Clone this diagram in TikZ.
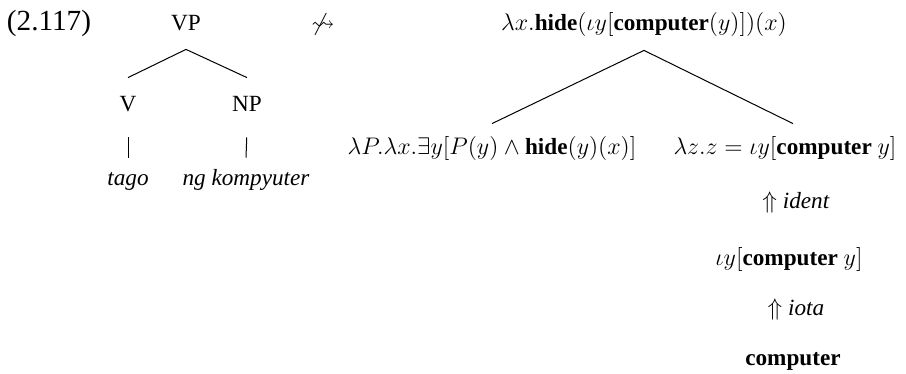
\documentclass[tikz,border=0pt]{standalone}
\usepackage{amssymb}
\usepackage{fontspec}
\setmainfont{Liberation Serif}
\usetikzlibrary{positioning}

\begin{document}
\fontsize{11.6}{14}\selectfont
\begin{tikzpicture}
         [x=0.5pt, y=-0.5pt, every node/.style={anchor=base, inner xsep=0pt},
          cat node/.style={text height=8pt, text depth=0pt, inner ysep=9pt},
          leaf node/.style={text height=8pt, text depth=0pt, inner ysep=5.5pt},
          sem node/.style={text height=8pt, text depth=2pt, inner ysep=7.5pt},
          branch/.style={line width=0.5pt}]
         \useasboundingbox (0,0) rectangle (906,374);
         \node[font=\fontsize{14.6}{17}\selectfont] (num) at (49,31) {(2.117)};

         % syntax tree
         \node[cat node] (vp) at (186,31) {VP};
         \node[cat node] (v) at (128,112) {V};
         \node[cat node] (np) at (247,112) {NP};
         \node[leaf node] (tago) at (128,185) {\textit{tago}};
         \node[leaf node] (ng) at (246,185) {\textit{ng kompyuter}};

         \node (arr) at (323,31) {$\not\rightsquigarrow$};

         % semantic tree
         \node[sem node] (top) at (644,31) {$\lambda x.\textbf{hide}(\iota y[\textbf{computer}(y)])(x)$};
         \node[sem node] (fun) at (492,155) {$\lambda P.\lambda x.\exists y[P(y)\wedge\textbf{hide}(y)(x)]$};
         \node[sem node] (arg) at (785,155) {$\lambda z.z=\iota y[\textbf{computer}~y]$};
         \node (ident) at (796,209) {$\Uparrow$ \textit{ident}};
         \node (iotay) at (789,265) {$\iota y[\textbf{computer}~y]$};
         \node (iota) at (796,315) {$\Uparrow$ \textit{iota}};
         \node (comp) at (793,365) {\textbf{computer}};

         \draw[branch] (v.north) -- (vp.south) -- (np.north);
         \draw[branch, shorten <=3.5pt] (v.south) -- (tago.north);
         \draw[branch, shorten <=3.5pt] (np.south) -- (ng.north);
         \draw[branch] (fun.north) -- (top.south) -- ([xshift=4pt]arg.north);
      \end{tikzpicture}
\end{document}
